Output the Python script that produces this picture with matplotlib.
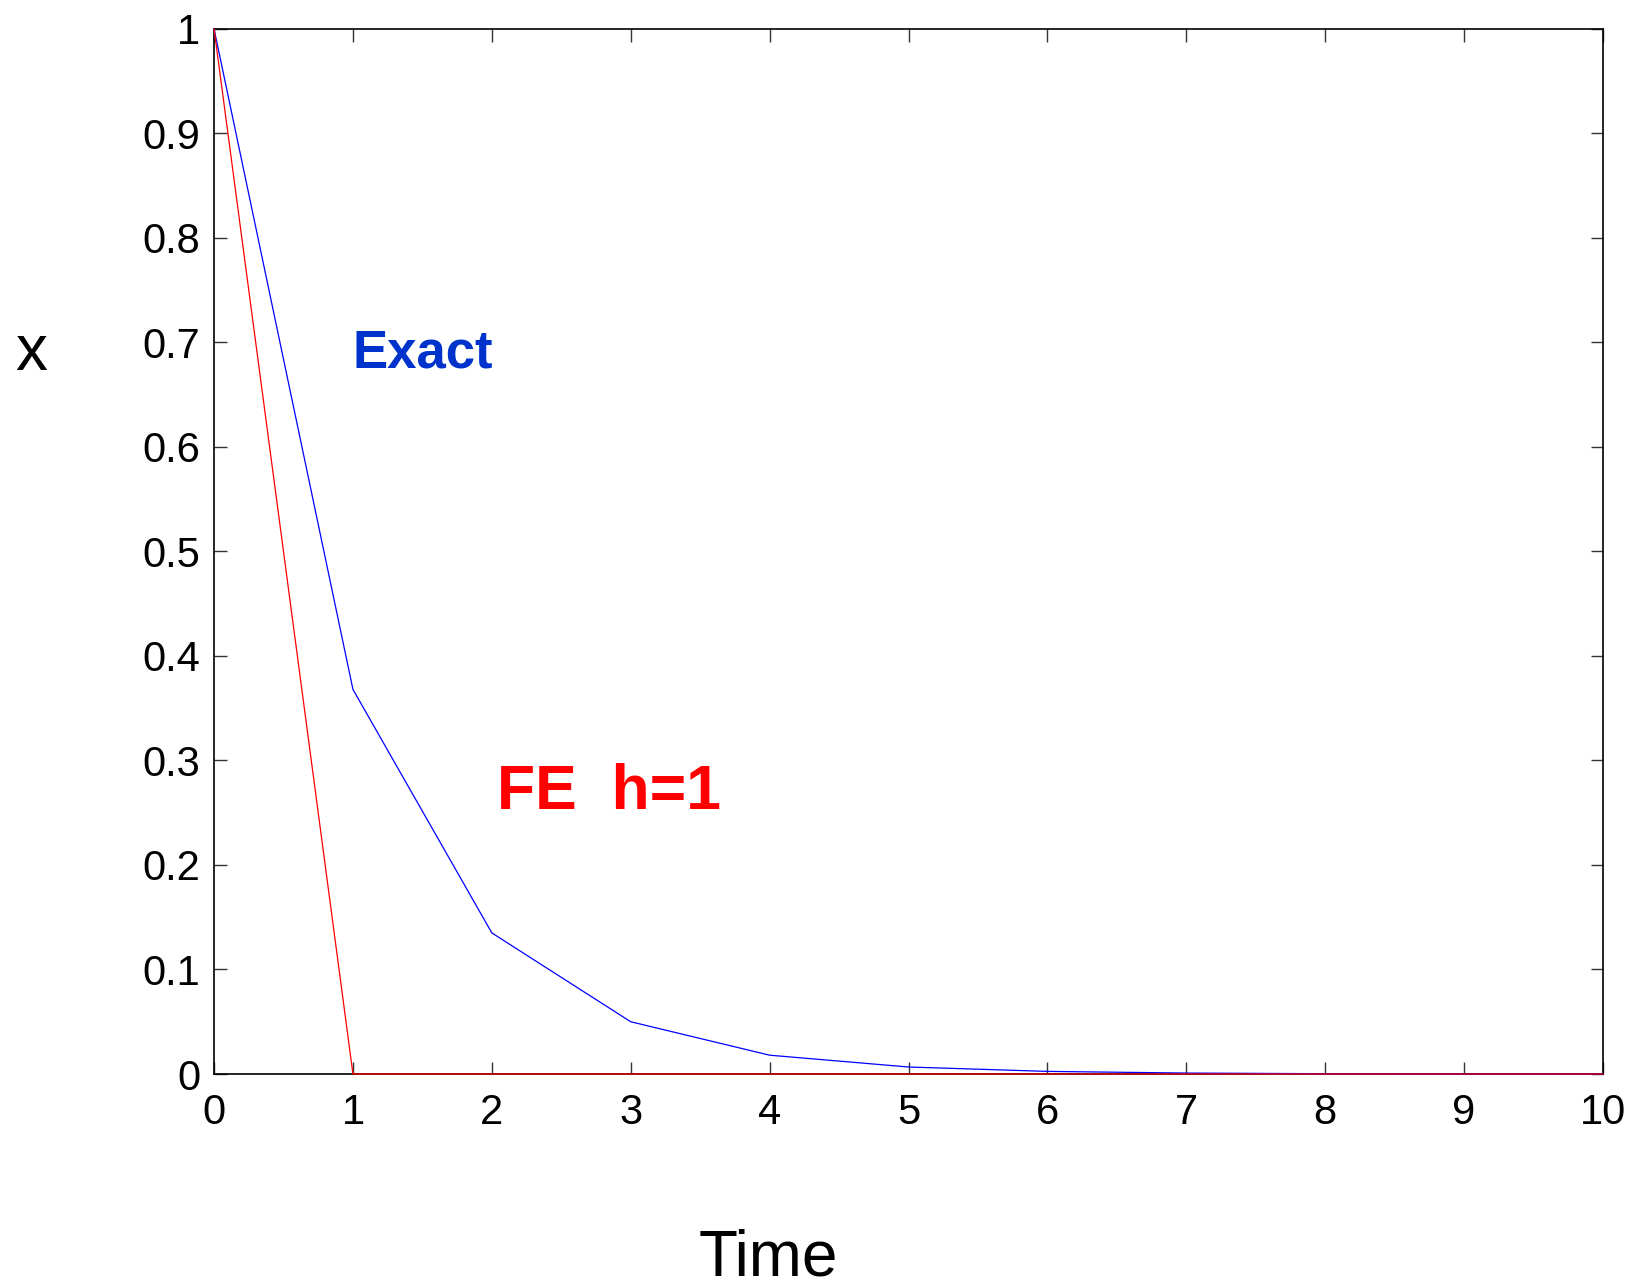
import numpy as np
import matplotlib.pyplot as plt

plt.rcParams['font.family'] = ['Liberation Sans', 'DejaVu Sans']

# sample times and solutions
time = [0, 1, 2, 3, 4, 5, 6, 7, 8, 9, 10]
exact = [1.0, 0.368, 0.135, 0.050, 0.018, 0.0067, 0.0025, 0.0009, 0.0003, 0.0001, 0.00005]
fe_h1 = [1.0, 0, 0, 0, 0, 0, 0, 0, 0, 0, 0]

x_ticks = list(range(0, 11))
y_ticks = [0, 0.1, 0.2, 0.3, 0.4, 0.5, 0.6, 0.7, 0.8, 0.9, 1]
y_tick_labels = ['0', '0.1', '0.2', '0.3', '0.4', '0.5', '0.6', '0.7', '0.8', '0.9', '1']

fig = plt.figure(figsize=(16.34, 12.87), dpi=100)
ax = fig.add_axes([0.131, 0.1655, 0.85, 0.812])

ax.plot(time, exact, color='#0000ff', linewidth=0.9, zorder=3, clip_on=False)
ax.plot(time, fe_h1, color='#ff0000', linewidth=0.9, zorder=3, clip_on=False)

ax.set_xlim(0, 10)
ax.set_ylim(0, 1)
ax.set_xticks(x_ticks)
ax.set_xticklabels([str(t) for t in x_ticks])
ax.set_yticks(y_ticks)
ax.set_yticklabels(y_tick_labels)

ax.tick_params(direction='in', length=9, width=1, top=True, right=True,
               labelsize=30, color='#333333')
ax.tick_params(axis='y', pad=10)
ax.tick_params(axis='x', pad=14)
for s in ax.spines.values():
    s.set_linewidth(1.2)

ax.text(1.0, 0.689, 'Exact', color='#0033cc', fontsize=38, fontweight='bold',
        va='center', ha='left')
ax.text(2.04, 0.269, 'FE  h=1', color='#ff0000', fontsize=45, fontweight='bold',
        va='center', ha='left')

fig.text(768 / 1634, 1 - 1258 / 1287, 'Time', fontsize=46, ha='center', va='center')
fig.text(31 / 1634, 1 - 353 / 1287, 'x', fontsize=46, ha='center', va='center')

fig.savefig('out.png', dpi=100)
